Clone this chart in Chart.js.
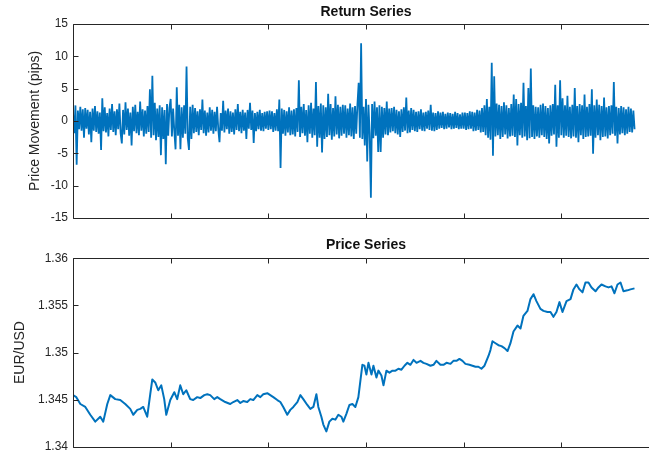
<!DOCTYPE html>
<html>
<head>
<meta charset="utf-8">
<script src="https://cdn.jsdelivr.net/npm/chart.js@4/dist/chart.umd.min.js"></script>
<style>
  html, body { margin: 0; padding: 0; background: #fff; overflow: hidden; width: 649px; height: 459px; }
  #wrap { position: relative; width: 649px; height: 459px; overflow: hidden; }
  canvas { position: absolute; left: 0; }
  #returns { top: 0; }
  #price { top: 230px; }
</style>
</head>
<body>
<div id="wrap">
  <canvas id="returns" width="680" height="230"></canvas>
  <canvas id="price" width="680" height="229"></canvas>
</div>
<script>
// Tick-by-tick return series (pips), sampled every returnStep time units
const returnStep = 1.25;
const returnValues = [
  1.2, -1.9, 2.4, -6.8, 1.6, -1.3, 2.2, -1.5, 1.8, -2.6, 2.0, -1.2, 1.7, -2.1, 1.4, -3.3, 1.9, -1.5, 2.3, -1.7,
  1.5, -2.0, 1.3, -4.5, 3.5, -1.6, 2.1, -1.8, 1.2, -2.4, 1.9, -1.4, 2.6, -1.7, 1.5, -2.2, 1.8, -1.3, 2.7, -1.9,
  -3.5, 1.7, -2.1, 2.9, -1.4, 1.9, -2.3, 1.3, -3.8, 2.2, -1.6, 2.5, -1.9, 1.4, -2.2, 3.0, -1.5, 1.8, -2.4, 1.6,
  -2.0, 2.3, -1.7, 4.9, -2.6, 7.0, -2.2, 2.8, -3.0, 1.9, -2.5, 2.4, -5.3, 2.1, -2.8, 1.7, -6.7, 2.6, -2.3, 2.0,
  3.4, -2.4, 1.9, -1.6, -4.4, 5.2, -2.3, 2.5, -4.4, 2.1, -2.6, 2.4, -2.0, 8.4, -2.7, -4.5, 2.2, -2.8, 2.5, -1.9,
  2.0, -1.7, 1.5, -2.2, 1.8, -1.4, 3.3, -1.9, 1.6, -2.3, 1.3, -1.8, 2.1, -1.5, 1.7, -2.0, 1.4, -1.6, 2.2, -1.3,
  -3.3, 1.2, -1.5, 3.1, -1.8, 1.6, -1.3, 1.9, -2.0, 1.5, -1.7, 1.3, -2.1, 1.8, -1.4, 2.6, -1.6, 1.4, -1.9, 1.7,
  -1.5, 1.3, -2.8, 1.7, -1.2, 2.8, -1.4, 1.6, -3.4, 1.2, -1.6, 1.4, -1.3, 1.7, -1.5, 1.2, -1.6, 1.4, -1.2, 1.5,
  -1.4, 1.6, -1.3, 1.5, -1.7, 1.2, -1.5, 1.8, -1.6, 3.3, -7.3, 1.9, -2.0, 1.7, -2.3, 1.5, -1.8, 2.1, -2.2, 1.6,
  -2.1, 1.8, -2.4, 2.0, -1.7, 6.3, -2.5, 2.2, -1.9, 2.6, -2.3, 1.7, -3.3, 2.4, -2.0, 2.8, -2.6, 1.9, -2.2, 6.0,
  -4.0, 2.3, -2.6, 2.7, -4.9, 2.4, -2.8, 2.1, -2.5, 4.2, -2.2, 2.6, -2.9, 2.0, -2.4, 3.8, -2.1, 2.5, -2.7, 2.2,
  -2.3, 2.5, -2.0, 2.4, -2.6, 1.9, -2.2, 2.7, -2.4, 2.1, -2.8, 2.3, -2.0, 2.6, 5.9, -2.6, 12.0, -2.8, 2.2, -3.8,
  3.4, -6.3, 2.5, -2.0, -11.9, 2.6, -2.7, 3.0, -2.3, 2.1, -4.8, 2.4, -4.8, 2.2, -2.6, 2.0, -2.1, 3.0, -2.2, 1.9,
  -1.8, 2.0, -1.6, 2.2, -1.9, 1.7, -2.1, 1.5, -2.5, 1.8, -1.7, 2.1, -1.5, 3.6, -1.9, 1.6, -1.8, 2.0, -1.4, 1.7,
  -1.6, 1.4, -1.7, 1.5, -1.3, 1.8, -1.5, 1.3, -1.6, 1.4, -1.2, 1.6, -1.4, 2.5, -1.5, 1.3, -1.6, 1.2, -1.4, 1.5,
  -1.2, 1.3, -1.1, 1.4, -1.3, 1.1, -1.2, 1.3, -1.0, 1.2, -1.3, 1.1, -1.2, 1.4, -1.1, 1.2, -1.3, 1.0, -1.2, 1.3,
  -1.2, 1.3, -1.4, 1.2, -1.3, 1.5, -1.2, 1.4, -1.6, 1.3, -1.5, 1.7, -1.4, 1.6, -1.8, 2.0, -1.7, 2.4, -2.2, 3.4,
  -2.6, 2.2, -2.9, 9.0, -5.4, 6.9, -2.4, 2.7, -2.2, 2.5, -2.8, 2.3, -2.5, 2.9, -2.1, 2.4, -2.7, 2.0, -2.4, 2.6,
  -2.3, 4.1, -2.5, 3.4, -3.8, 2.6, -2.2, 2.8, -2.6, 5.9, -2.4, 2.3, -3.0, 5.1, -2.7, 8.1, -2.5, 2.4, -2.8, 2.2,
  -2.4, 2.1, -2.6, 2.5, -2.2, 2.7, -2.5, 2.3, -2.8, 2.0, -3.5, 2.4, -2.3, 2.6, -2.1, 5.6, -4.0, 2.4, -2.6, 6.3,
  -2.2, 3.5, -2.6, 2.4, -2.3, 3.9, -2.5, 2.2, -2.7, 2.5, -2.4, 5.1, -2.6, 2.3, -3.3, 2.6, -2.2, 2.4, -2.8, 4.1,
  -2.5, 2.2, -2.4, 2.6, -2.3, 4.9, -5.1, 2.4, -2.6, 3.3, -2.2, 2.5, -3.0, 2.3, -2.5, 3.6, -2.4, 2.1, -2.7, 2.3,
  -2.2, 2.4, -2.0, 6.0, -2.3, 2.2, -3.5, 2.0, -2.1, 2.3, -1.9, 2.1, -2.2, 1.8, -2.0, 2.2, -1.7, 1.9, -1.8, 1.6,
  -1.3
];

// EUR/USD price path: observation times and rates
const priceTimes = [
  0, 3.4, 7.5, 12.6, 17.7, 22.8, 27.9, 31.0, 35.1, 38.2,
  43.3, 48.4, 53.5, 58.6, 61.7, 65.8, 68.9, 71.9, 76.0, 79.1,
  81.2, 84.2, 87.3, 90.4, 93.4, 95.5, 99.6, 103.7, 106.7, 109.8,
  112.9, 116.0, 120.0, 123.1, 127.2, 130.3, 134.4, 137.5, 140.5, 144.6,
  147.7, 150.8, 155.9, 161.0, 164.1, 168.2, 171.3, 174.3, 178.4, 181.5,
  184.6, 188.7, 191.8, 194.8, 198.9, 202.0, 205.1, 209.2, 212.3, 215.3,
  219.4, 222.5, 225.6, 229.7, 232.8, 235.8, 239.9, 243.0, 246.1, 249.2,
  251.2, 254.3, 256.3, 259.4, 262.5, 265.6, 268.6, 271.7, 274.8, 276.8,
  279.9, 283.0, 286.1, 289.1, 292.2, 294.3, 296.3, 298.4, 300.4, 302.5,
  305.6, 307.6, 310.7, 312.7, 315.8, 317.9, 320.9, 324.0, 327.1, 330.2,
  333.2, 336.3, 339.4, 342.4, 345.5, 348.6, 351.7, 355.8, 358.8, 361.9,
  366.0, 369.1, 372.1, 376.2, 379.3, 382.4, 386.5, 389.5, 392.6, 395.7,
  398.8, 401.8, 405.9, 409.0, 412.1, 415.1, 418.2, 421.3, 423.3, 425.4,
  427.4, 429.5, 432.6, 435.6, 438.7, 441.8, 444.9, 447.9, 451.0, 455.1,
  458.2, 461.2, 465.3, 468.4, 471.5, 474.5, 478.6, 481.7, 485.8, 488.9,
  491.9, 495.0, 498.1, 501.2, 505.3, 509.4, 512.4, 515.5, 518.6, 521.7,
  524.7, 527.8, 530.9, 535.0, 538.0, 541.1, 545.2, 548.3, 551.4, 554.4,
  557.5, 560.6, 563.6, 567.7, 570.8, 574.9
];
const priceValues = [
  1.34548, 1.34527, 1.34454, 1.34423, 1.34340, 1.34267, 1.34319, 1.34267, 1.34454, 1.34548,
  1.34506, 1.34496, 1.34454, 1.34402, 1.34340, 1.34392, 1.34402, 1.34423, 1.34319, 1.34558,
  1.34714, 1.34683, 1.34600, 1.34652, 1.34506, 1.34340, 1.34496, 1.34579, 1.34506, 1.34652,
  1.34558, 1.34600, 1.34506, 1.34496, 1.34527, 1.34517, 1.34548, 1.34558, 1.34548, 1.34506,
  1.34527, 1.34506, 1.34475, 1.34454, 1.34475, 1.34496, 1.34465, 1.34485, 1.34475, 1.34506,
  1.34496, 1.34548, 1.34527, 1.34558, 1.34569, 1.34548, 1.34527, 1.34496, 1.34475, 1.34423,
  1.34340, 1.34392, 1.34423, 1.34475, 1.34548, 1.34506, 1.34444, 1.34402, 1.34423, 1.34558,
  1.34423, 1.34319, 1.34236, 1.34163, 1.34267, 1.34298, 1.34288, 1.34340, 1.34319, 1.34267,
  1.34350, 1.34444, 1.34454, 1.34423, 1.34527, 1.34704, 1.34870, 1.34860, 1.34766, 1.34891,
  1.34766, 1.34860, 1.34735, 1.34808, 1.34756, 1.34652, 1.34808, 1.34787, 1.34808, 1.34808,
  1.34828, 1.34818, 1.34860, 1.34891, 1.34870, 1.34922, 1.34891, 1.34912, 1.34891, 1.34880,
  1.34860, 1.34870, 1.34912, 1.34870, 1.34870, 1.34891, 1.34880, 1.34912, 1.34912, 1.34932,
  1.34912, 1.34880, 1.34870, 1.34860, 1.34849, 1.34849, 1.34828, 1.34860, 1.34912, 1.34964,
  1.35026, 1.35120, 1.35099, 1.35078, 1.35068, 1.35047, 1.35016, 1.35099, 1.35223, 1.35286,
  1.35255, 1.35390, 1.35442, 1.35567, 1.35619, 1.35546, 1.35463, 1.35442, 1.35431, 1.35431,
  1.35379, 1.35431, 1.35535, 1.35431, 1.35546, 1.35567, 1.35670, 1.35722, 1.35670, 1.35639,
  1.35743, 1.35743, 1.35691, 1.35650, 1.35691, 1.35722, 1.35702, 1.35691, 1.35702, 1.35629,
  1.35722, 1.35743, 1.35650, 1.35660, 1.35670, 1.35681
];

// Axis ticks
const timeTicks = [0, 100, 200, 300, 400, 500, 600];
const returnTicks = [-15, -10, -5, 0, 5, 10, 15];
const returnTickLabels = ['-15', '-10', '-5', '0', '5', '10', '15'];
const priceTicks = [1.34, 1.345, 1.35, 1.355, 1.36];
const priceTickLabels = ['1.34', '1.345', '1.35', '1.355', '1.36'];

const FONT = "'Liberation Sans', Arial, Helvetica, sans-serif";
const INK = '#262626';
const LINE = '#0072BD';

// Boxed axes with inward tick marks and a bold panel title
const framePlugin = {
  id: 'frame',
  afterDraw(chart, args, opts) {
    const { ctx, chartArea: a, scales } = chart;
    const len = 5;
    ctx.save();
    ctx.strokeStyle = INK;
    ctx.lineWidth = 1;
    const L = Math.round(a.left) + 0.5, R = Math.round(a.right) + 0.5;
    const T = Math.round(a.top) + 0.5, B = Math.round(a.bottom) + 0.5;
    ctx.beginPath();
    ctx.rect(L, T, R - L, B - T);
    timeTicks.forEach(v => {
      const x = Math.round(scales.x.getPixelForValue(v)) + 0.5;
      ctx.moveTo(x, T); ctx.lineTo(x, T + len);
      ctx.moveTo(x, B); ctx.lineTo(x, B - len);
    });
    opts.yTicks.forEach(v => {
      const y = Math.round(scales.y.getPixelForValue(v)) + 0.5;
      ctx.moveTo(L, y); ctx.lineTo(L + len, y);
      ctx.moveTo(R, y); ctx.lineTo(R - len, y);
    });
    ctx.stroke();
    ctx.fillStyle = '#111';
    ctx.font = 'bold 14px ' + FONT;
    ctx.textAlign = 'center';
    ctx.textBaseline = 'middle';
    ctx.fillText(opts.title, (a.left + a.right) / 2, opts.titleY);
    ctx.restore();
  }
};

function makeChart(id, cfg) {
  return new Chart(document.getElementById(id), {
    type: 'line',
    data: {
      datasets: [{
        data: cfg.points,
        borderColor: LINE,
        borderWidth: cfg.lineWidth,
        borderJoinStyle: cfg.join,
        pointRadius: 0,
        tension: 0,
        fill: false
      }]
    },
    options: {
      responsive: false,
      animation: false,
      events: [],
      layout: { padding: cfg.padding },
      plugins: {
        legend: { display: false },
        tooltip: { enabled: false },
        frame: { title: cfg.title, titleY: cfg.titleY, yTicks: cfg.yTicks }
      },
      scales: {
        x: { type: 'linear', display: false, min: 0, max: 600 },
        y: {
          type: 'linear',
          min: cfg.yMin,
          max: cfg.yMax,
          afterBuildTicks: s => { s.ticks = cfg.yTicks.map(v => ({ value: v })); },
          afterFit: s => { s.width = 73; },
          grid: { display: false, drawTicks: false },
          border: { display: false },
          ticks: {
            padding: 5,
            color: INK,
            font: { family: FONT, size: 12 },
            callback: (v, i) => cfg.yLabels[i]
          },
          title: {
            display: true,
            text: cfg.yTitle,
            color: INK,
            font: { family: FONT, size: 14 },
            padding: { top: cfg.yTitlePad, bottom: 0 }
          }
        }
      }
    },
    plugins: [framePlugin]
  });
}

makeChart('returns', {
  points: returnValues.map((v, i) => ({ x: i * returnStep, y: v })),
  lineWidth: 1.8,
  join: 'bevel',
  padding: { left: 0, right: 21, top: 24, bottom: 10 },
  title: 'Return Series',
  titleY: 12,
  yMin: -15, yMax: 15,
  yTicks: returnTicks,
  yLabels: returnTickLabels,
  yTitle: 'Price Movement (pips)',
  yTitlePad: 26.5
});

makeChart('price', {
  points: priceValues.map((v, i) => ({ x: priceTimes[i], y: v })),
  lineWidth: 2,
  join: 'round',
  padding: { left: 0, right: 21, top: 28.3, bottom: 8.3 },
  title: 'Price Series',
  titleY: 15.5,
  yMin: 1.34, yMax: 1.36,
  yTicks: priceTicks,
  yLabels: priceTickLabels,
  yTitle: 'EUR/USD',
  yTitlePad: 11.5
});
</script>
</body>
</html>
